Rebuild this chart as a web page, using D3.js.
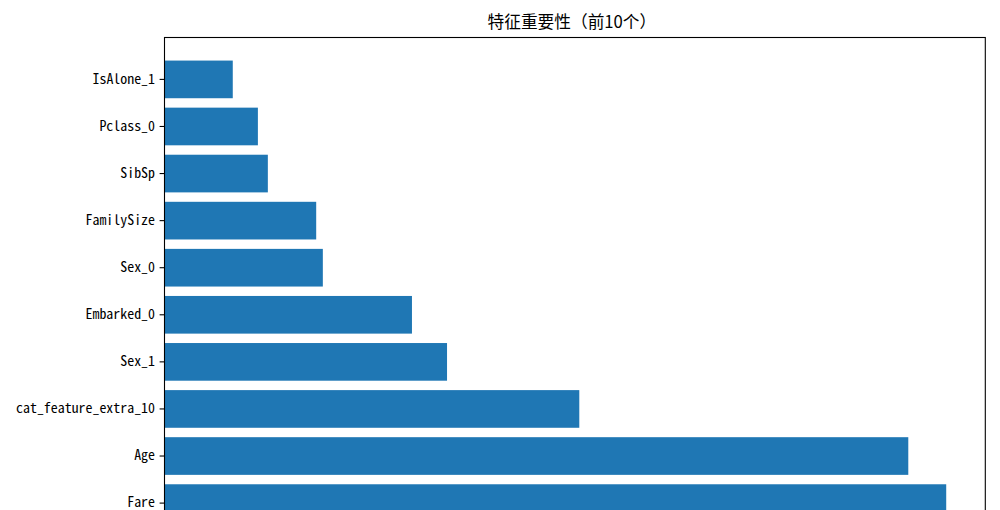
<!DOCTYPE html>
<html>
<head>
<meta charset="utf-8">
<script src="https://cdn.jsdelivr.net/npm/d3@7"></script>
<style>
  body { margin: 0; background: #fff; }
  svg { display: block; }
</style>
</head>
<body>
<div id="chart"></div>
<script>
// Top 10 features, listed top to bottom as shown
const features = ["IsAlone_1", "Pclass_0", "SibSp", "FamilySize", "Sex_0",
                  "Embarked_0", "Sex_1", "cat_feature_extra_10", "Age", "Fare"];
const importances = [0.0144, 0.0197, 0.0218, 0.0320, 0.0334,
                     0.0522, 0.0596, 0.0875, 0.1569, 0.1649];
const title = "特征重要性（前10个）";

const width = 1000;
const height = 510;

// axes box (bottom edge falls below the visible area)
const axLeft = 164.5, axRight = 985.3, axTop = 37.5, axBottom = 545;

const svg = d3.select("#chart").append("svg")
    .attr("width", width)
    .attr("height", height);

svg.append("rect")
    .attr("width", width)
    .attr("height", height)
    .attr("fill", "#fff");

const x = d3.scaleLinear()
    .domain([0, d3.max(importances) * 1.05])
    .range([axLeft, axRight]);

const y = d3.scaleBand()
    .domain(features)
    .range([axTop, axBottom])
    .paddingInner(0.2)
    .paddingOuter(0.49);

// bars
svg.append("g")
    .selectAll("rect")
    .data(features)
    .join("rect")
    .attr("x", x(0))
    .attr("y", d => y(d))
    .attr("width", (d, i) => x(importances[i]) - x(0))
    .attr("height", y.bandwidth())
    .attr("fill", "#1f77b4");

// y axis with tick labels
const yAxis = svg.append("g")
    .attr("transform", `translate(${axLeft},0)`)
    .call(d3.axisLeft(y).tickSize(4.9).tickPadding(4.6));

yAxis.select(".domain").remove();
yAxis.selectAll(".tick line")
    .attr("stroke", "#000")
    .attr("stroke-width", 1.1);
yAxis.selectAll(".tick text")
    .attr("fill", "#000")
    .attr("dy", "0.3em")
    .style("font-family", "'Noto Sans Mono CJK SC', 'DejaVu Sans Mono', monospace")
    .style("font-size", "13.9px");

// frame
svg.append("rect")
    .attr("x", axLeft)
    .attr("y", axTop)
    .attr("width", axRight - axLeft)
    .attr("height", axBottom - axTop)
    .attr("fill", "none")
    .attr("stroke", "#000")
    .attr("stroke-width", 1.1);

// title
svg.append("text")
    .attr("x", (axLeft + axRight) / 2 - 3)
    .attr("y", 28)
    .attr("text-anchor", "middle")
    .style("font-family", "'Noto Sans CJK SC', sans-serif")
    .style("font-size", "16.7px")
    .attr("fill", "#000")
    .text(title);
</script>
</body>
</html>
